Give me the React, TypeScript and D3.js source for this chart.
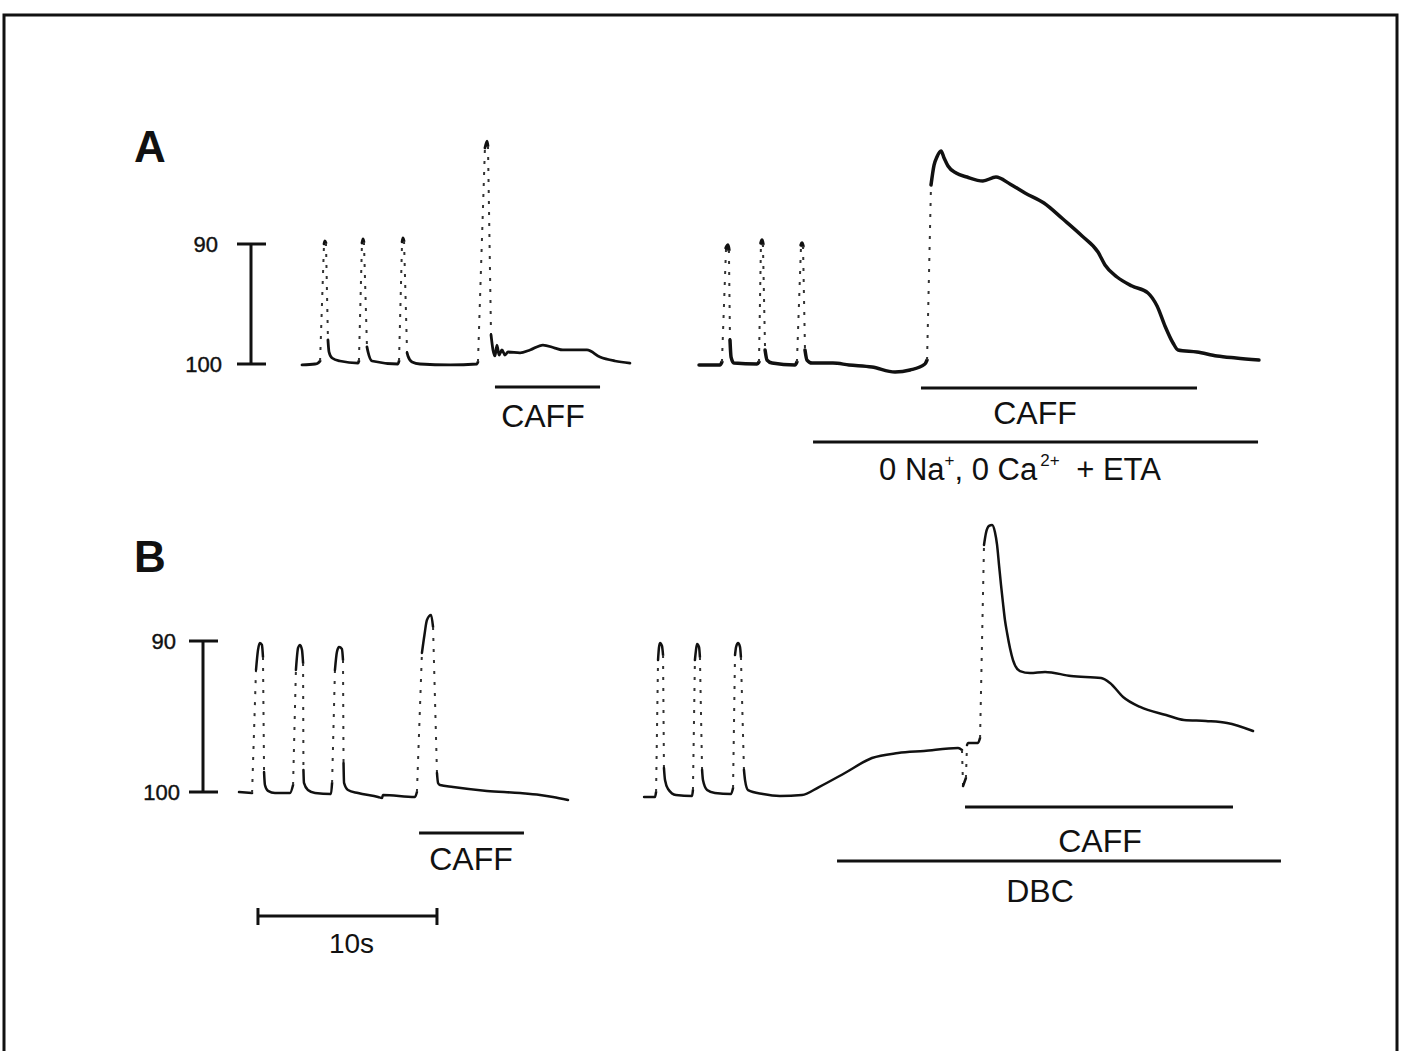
import React from 'react';
import * as d3 from 'd3';

const W = 1401;
const H = 1051;

// Panel A traces: time (s) and cell length (% of resting length)
const A_LEFT_T = [0, 0.73, 0.89, 1.01, 1.23, 1.28, 1.34, 1.45, 1.51, 1.68, 2.12, 3.13, 3.18, 3.35, 3.41, 3.46, 3.63, 3.69, 3.91, 5.36, 5.42, 5.59, 5.64, 5.70, 5.87, 5.92, 6.15, 6.59, 8.27, 9.78, 9.83, 10.22, 10.34, 10.39, 10.56, 10.67, 10.78, 10.89, 11.01, 11.17, 11.34, 11.51, 12.18, 12.74, 13.46, 14.13, 14.58, 15.92, 16.65, 17.49, 18.32];
const A_LEFT_V = [100.08, 100, 99.92, 99.75, 90.0, 89.75, 89.92, 98.0, 99.0, 99.5, 99.75, 99.92, 99.75, 89.92, 89.58, 89.83, 98.58, 99.0, 99.75, 100, 99.75, 89.83, 89.5, 89.75, 99.08, 99.33, 99.83, 100, 100.08, 100, 99.83, 82.0, 81.42, 81.83, 97.58, 98.83, 99.33, 98.42, 99.25, 98.83, 99.25, 99.0, 99.08, 98.83, 98.42, 98.67, 98.83, 98.83, 99.42, 99.75, 99.92];

const A_RIGHT_T = [22.18, 23.35, 23.46, 23.69, 23.80, 23.85, 23.91, 23.97, 24.13, 25.42, 25.53, 25.64, 25.70, 25.75, 25.87, 25.98, 26.26, 27.54, 27.65, 27.88, 27.93, 27.99, 28.10, 28.21, 28.49, 29.66, 30.56, 31.84, 33.13, 33.97, 34.80, 34.92, 35.14, 35.31, 35.47, 35.70, 35.87, 36.09, 36.54, 37.15, 38.04, 38.77, 39.55, 40.39, 41.45, 42.51, 43.58, 44.47, 44.86, 45.53, 46.37, 47.26, 47.77, 48.21, 48.66, 48.94, 50.00, 51.12, 52.18, 53.46];
const A_RIGHT_V = [100.08, 100.08, 99.83, 90.33, 90.08, 90.5, 98.0, 99.42, 99.92, 100, 99.83, 89.92, 89.67, 90.0, 98.83, 99.67, 99.92, 100.08, 99.83, 90.08, 89.92, 90.17, 98.83, 99.67, 99.92, 99.92, 100.08, 100.25, 100.67, 100.5, 100, 99.67, 85.08, 83.42, 82.75, 82.25, 82.83, 83.5, 84.08, 84.42, 84.75, 84.42, 85.0, 85.75, 86.58, 87.92, 89.33, 90.67, 91.75, 92.75, 93.5, 94.08, 95.17, 96.83, 98.25, 98.83, 99.0, 99.33, 99.5, 99.67];

// Panel B traces
const B_LEFT_T = [0, 0.73, 0.95, 1.06, 1.17, 1.28, 1.34, 1.40, 1.45, 1.62, 2.01, 2.85, 3.02, 3.18, 3.30, 3.41, 3.52, 3.58, 3.60, 3.63, 3.85, 4.25, 5.14, 5.20, 5.36, 5.47, 5.59, 5.75, 5.81, 5.84, 5.87, 6.09, 6.65, 7.77, 7.99, 8.04, 9.83, 9.94, 10.22, 10.36, 10.50, 10.73, 10.84, 11.06, 11.12, 11.23, 11.96, 13.85, 15.70, 16.82, 17.54, 18.38];
const B_LEFT_V = [100.0, 100.07, 91.92, 90.6, 90.13, 90.26, 91.06, 98.68, 99.54, 99.93, 100.07, 100.07, 99.54, 91.92, 90.46, 90.26, 90.6, 91.46, 98.54, 99.4, 99.87, 100.07, 100.13, 99.4, 91.92, 90.73, 90.4, 90.53, 91.26, 98.08, 99.4, 99.87, 100.07, 100.33, 100.4, 100.2, 100.33, 100.0, 90.79, 89.6, 88.61, 88.28, 89.07, 98.74, 99.4, 99.54, 99.67, 99.93, 100.07, 100.2, 100.33, 100.53];

const B_RIGHT_T = [22.63, 23.24, 23.30, 23.41, 23.46, 23.52, 23.63, 23.69, 23.74, 23.80, 23.97, 24.41, 25.31, 25.36, 25.47, 25.53, 25.59, 25.70, 25.75, 25.87, 25.92, 26.15, 26.59, 27.49, 27.60, 27.71, 27.77, 27.88, 27.99, 28.04, 28.21, 28.27, 28.44, 29.27, 30.22, 31.45, 32.40, 33.85, 35.36, 36.82, 38.27, 40.17, 40.39, 40.45, 40.61, 40.67, 40.73, 41.28, 41.40, 41.62, 41.73, 41.90, 42.07, 42.23, 42.35, 42.46, 42.57, 42.68, 42.79, 42.91, 43.07, 43.24, 43.63, 44.19, 45.03, 46.48, 48.16, 48.66, 49.39, 50.34, 51.79, 52.79, 54.02, 55.20, 56.65];
const B_RIGHT_V = [100.33, 100.33, 100.0, 91.26, 90.46, 90.13, 90.33, 90.93, 98.41, 99.21, 99.80, 100.20, 100.26, 99.87, 91.26, 90.60, 90.20, 90.40, 91.06, 98.54, 99.21, 99.87, 100.07, 100.13, 99.74, 90.93, 90.40, 90.13, 90.40, 91.06, 98.54, 99.21, 99.87, 100.13, 100.26, 100.20, 99.67, 98.74, 97.75, 97.42, 97.28, 97.09, 97.22, 99.60, 99.07, 96.89, 96.75, 96.75, 96.42, 83.64, 82.85, 82.38, 82.32, 82.78, 83.64, 84.97, 86.29, 87.48, 88.61, 89.47, 90.46, 91.26, 91.99, 92.12, 92.05, 92.32, 92.45, 92.78, 93.71, 94.37, 94.90, 95.23, 95.30, 95.43, 95.96];

// Calibration bar ticks
const CAL_TICKS = [90, 100];
const CAL_LABELS = ['90', '100'];

// Solution-change bars (time in s)
const A_BAR_START = [10.78, 34.58, 28.55];
const A_BAR_END = [16.65, 50.0, 53.41];
const A_BAR_LABEL_T = [13.46, 40.95, 40.11];
const B_BAR_LABELS = ['CAFF', 'CAFF', 'DBC'];
const B_BAR_START = [10.06, 40.56, 33.41];
const B_BAR_END = [15.92, 55.53, 58.21];
const B_BAR_LABEL_T = [12.96, 48.1, 44.75];
const TIME_BAR = [1.06, 11.06];
const TIME_BAR_LABEL = '10s';

const FONT = '"Liberation Sans", Arial, Helvetica, sans-serif';

// layout (pixels)
const A_BAR_Y = [387, 388, 442];
const A_LABEL_Y = [427, 424, 480];
const B_BAR_Y = [833, 807, 861];
const B_LABEL_Y = [870, 852, 902];

function traceRuns(ts: number[], vs: number[], x: any, y: any) {
  const pts = ts.map((t, i) => [x(t), y(vs[i])] as [number, number]);
  const runs: { dashed: boolean; pts: [number, number][] }[] = [];
  let cur: any = null;
  for (let i = 1; i < pts.length; i++) {
    const [x0, y0] = pts[i - 1];
    const [x1, y1] = pts[i];
    const dx = Math.abs(x1 - x0);
    const dy = Math.abs(y1 - y0);
    const dashed = dy > 2.5 * dx && Math.hypot(dx, dy) > 28;
    if (!cur || cur.dashed !== dashed) {
      cur = { dashed, pts: [pts[i - 1]] };
      runs.push(cur);
    }
    cur.pts.push(pts[i]);
  }
  const solidLine = d3.line().curve(d3.curveMonotoneX);
  const straight = d3.line();
  return runs.map((r) => ({ dashed: r.dashed, d: (r.dashed ? straight(r.pts) : solidLine(r.pts)) as string }));
}

function Trace({ ts, vs, x, y, width }: any) {
  const runs = traceRuns(ts, vs, x, y);
  return (
    <g>
      {runs.map((r, i) =>
        r.dashed ? (
          <path key={i} d={r.d} fill="none" stroke="#333" strokeWidth={2} strokeDasharray="3 8" />
        ) : (
          <path key={i} d={r.d} fill="none" stroke="#111" strokeWidth={width} strokeLinecap="round" strokeLinejoin="round" />
        )
      )}
    </g>
  );
}

function CalBar({ x, y, labelRight }: any) {
  const y0 = y(CAL_TICKS[0]);
  const y1 = y(CAL_TICKS[1]);
  return (
    <g>
      <line x1={x} x2={x} y1={y0} y2={y1} stroke="#111" strokeWidth={3} />
      {CAL_TICKS.map((t, i) => (
        <g key={i}>
          <line x1={x - 14} x2={x + 15} y1={y(t)} y2={y(t)} stroke="#111" strokeWidth={3} />
          <text x={labelRight - (i === 0 ? 4 : 0)} y={y(t) + 8} textAnchor="end" fontFamily={FONT} fontSize={22} fill="#111" stroke="#111" strokeWidth={0.4}>
            {CAL_LABELS[i]}
          </text>
        </g>
      ))}
    </g>
  );
}

export default function App() {
  const xA = d3.scaleLinear().domain([0, 10]).range([302, 481]);
  const yA = d3.scaleLinear().domain([90, 100]).range([244, 364]);
  const xB = d3.scaleLinear().domain([0, 10]).range([239, 418]);
  const yB = d3.scaleLinear().domain([90, 100]).range([641, 792]);

  return (
    <svg width={W} height={H} style={{ position: 'absolute', left: 0, top: 0, background: '#fff' }}>
      <rect x={0} y={0} width={W} height={H} fill="#fff" />
      <rect x={4} y={15} width={1393} height={1070} fill="none" stroke="#111" strokeWidth={3} />

      {/* Panel A */}
      <text x={134} y={162} fontFamily={FONT} fontWeight="bold" fontSize={44} fill="#111">A</text>
      <CalBar x={251} y={yA} labelRight={222} />
      <Trace ts={A_LEFT_T} vs={A_LEFT_V} x={xA} y={yA} width={2.8} />
      <Trace ts={A_RIGHT_T} vs={A_RIGHT_V} x={xA} y={yA} width={3.5} />
      {A_BAR_START.map((s, i) => (
        <line key={i} x1={xA(s)} x2={xA(A_BAR_END[i])} y1={A_BAR_Y[i]} y2={A_BAR_Y[i]} stroke="#111" strokeWidth={3} />
      ))}
      <text x={xA(A_BAR_LABEL_T[0])} y={A_LABEL_Y[0]} textAnchor="middle" fontFamily={FONT} fontSize={32} fill="#111">CAFF</text>
      <text x={xA(A_BAR_LABEL_T[1])} y={A_LABEL_Y[1]} textAnchor="middle" fontFamily={FONT} fontSize={32} fill="#111">CAFF</text>
      <text x={xA(A_BAR_LABEL_T[2])} y={A_LABEL_Y[2]} textAnchor="middle" fontFamily={FONT} fontSize={31} fill="#111">
        <tspan>0 Na</tspan>
        <tspan fontSize={17} dy={-14}>+</tspan>
        <tspan dy={14}>, 0 Ca</tspan>
        <tspan fontSize={17} dx={3} dy={-14}>2+</tspan>
        <tspan dx={8} dy={14}>{' + ETA'}</tspan>
      </text>

      {/* Panel B */}
      <text x={134} y={572} fontFamily={FONT} fontWeight="bold" fontSize={44} fill="#111">B</text>
      <CalBar x={203} y={yB} labelRight={180} />
      <Trace ts={B_LEFT_T} vs={B_LEFT_V} x={xB} y={yB} width={2.5} />
      <Trace ts={B_RIGHT_T} vs={B_RIGHT_V} x={xB} y={yB} width={2.5} />
      {B_BAR_START.map((s, i) => (
        <line key={i} x1={xB(s)} x2={xB(B_BAR_END[i])} y1={B_BAR_Y[i]} y2={B_BAR_Y[i]} stroke="#111" strokeWidth={3} />
      ))}
      {B_BAR_LABELS.map((l, i) => (
        <text key={i} x={xB(B_BAR_LABEL_T[i])} y={B_LABEL_Y[i]} textAnchor="middle" fontFamily={FONT} fontSize={32} fill="#111">{l}</text>
      ))}

      {/* time scale bar */}
      <line x1={xB(TIME_BAR[0])} x2={xB(TIME_BAR[1])} y1={916} y2={916} stroke="#111" strokeWidth={3} />
      <line x1={xB(TIME_BAR[0])} x2={xB(TIME_BAR[0])} y1={908} y2={925} stroke="#111" strokeWidth={3} />
      <line x1={xB(TIME_BAR[1])} x2={xB(TIME_BAR[1])} y1={908} y2={925} stroke="#111" strokeWidth={3} />
      <text x={xB((TIME_BAR[0] + TIME_BAR[1]) / 2) + 4} y={953} textAnchor="middle" fontFamily={FONT} fontSize={28} fill="#111">{TIME_BAR_LABEL}</text>
    </svg>
  );
}
